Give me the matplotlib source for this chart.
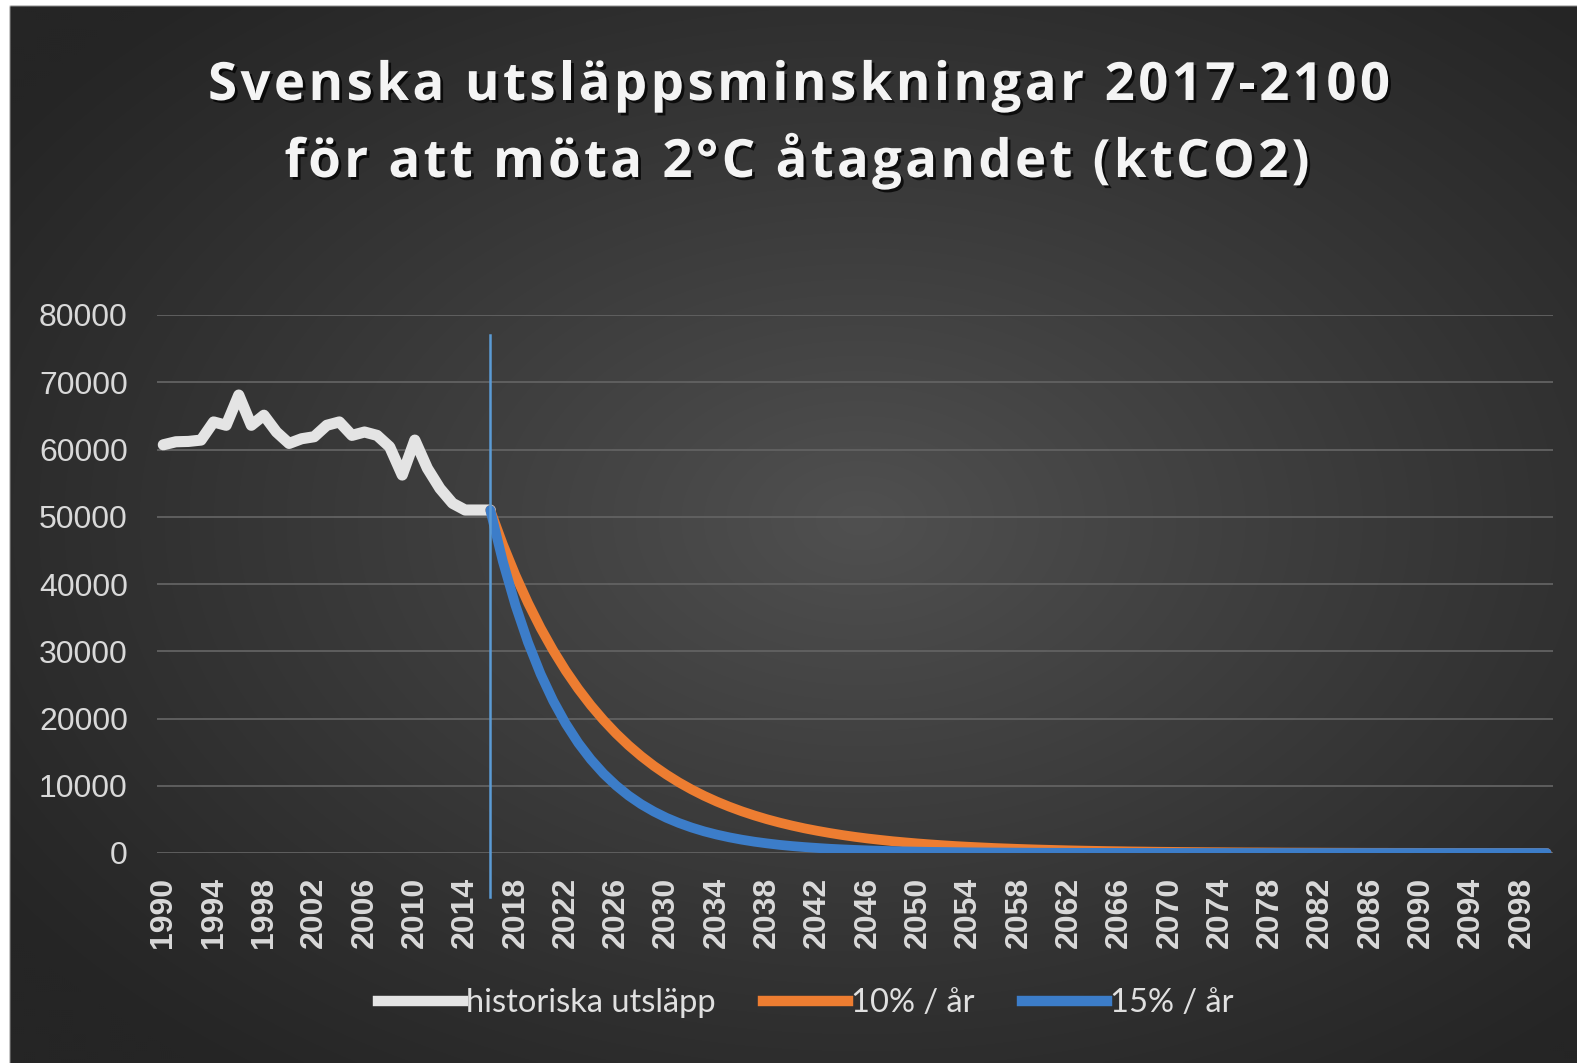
import numpy as np
import matplotlib
matplotlib.use("Agg")
import matplotlib.pyplot as plt
import matplotlib.patheffects as pe
from matplotlib.lines import Line2D
from matplotlib import font_manager
from matplotlib.font_manager import FontProperties
from matplotlib.ft2font import FT2Font

# ---------------- data ----------------
years = list(range(1990, 2101))
tick_labels = [str(y) for y in range(1990, 2101, 4)]

hist_years = list(range(1990, 2017))
hist_values = [60700, 61150, 61200, 61400, 64100, 63600, 68100, 63600, 65100, 62600,
               60900, 61600, 61900, 63600, 64100, 62100, 62600, 62100, 60400, 56200,
               61400, 57200, 54200, 52000, 51000, 51000, 51000]

proj_years = list(range(2016, 2101))
p10_values = [51000, 45900, 41310, 37180, 33460, 30120, 27100, 24390, 21950, 19760,
              17780, 16000, 14400, 12960, 11670, 10500, 9450, 8505, 7655, 6890,
              6200, 5580, 5020, 4520, 4070, 3660, 3300, 2970, 2670, 2400,
              2160, 1950, 1750, 1580, 1420, 1280, 1150, 1030, 930, 840,
              750, 680, 610, 550, 495, 445, 400, 360, 325, 290,
              265, 235, 215, 190, 175, 155, 140, 125, 115, 100,
              90, 85, 75, 65, 60, 55, 50, 45, 40, 35,
              30, 30, 25, 25, 20, 20, 15, 15, 15, 10,
              10, 10, 10, 8, 7]
p15_values = [51000, 43350, 36850, 31320, 26620, 22630, 19240, 16350, 13900, 11810,
              10040, 8530, 7250, 6170, 5240, 4460, 3790, 3220, 2740, 2330,
              1980, 1680, 1430, 1210, 1030, 880, 750, 630, 540, 460,
              390, 330, 280, 240, 200, 170, 150, 125, 105, 90,
              75, 65, 55, 47, 40, 34, 29, 25, 21, 18,
              15, 13, 11, 9, 8, 7, 6, 5, 4, 4,
              3, 3, 2, 2, 2, 1, 1, 1, 1, 1,
              1, 1, 1, 0, 0, 0, 0, 0, 0, 0,
              0, 0, 0, 0, 0]
marker_year = 2016

series_names = ["historiska utsläpp", "10% / år", "15% / år"]
title_lines = ["Svenska utsläppsminskningar 2017-2100", "för att möta 2°C åtagandet (ktCO2)"]
y_ticks = [0, 10000, 20000, 30000, 40000, 50000, 60000, 70000, 80000]

# ---------------- style ----------------
W, H = 1577, 1063
DPI = 100
fig = plt.figure(figsize=(W / DPI, H / DPI), dpi=DPI)

# background radial gradient
bg = fig.add_axes([0, 0, 1, 1], zorder=-10)
yy, xx = np.mgrid[0:H:2, 0:W:2]
cx, cy = 860, 520
r = np.sqrt(((xx - cx) / 1050.0) ** 2 + ((yy - cy) / 700.0) ** 2)
r = np.clip(r, 0, 1)
c_center = np.array([0x50, 0x50, 0x50]) / 255.0
c_edge = np.array([0x25, 0x25, 0x25]) / 255.0
t = (1 - r) ** 1.1
img = c_edge[None, None, :] + (c_center - c_edge)[None, None, :] * t[:, :, None]
img[: 3, :, :] = 1.0
img[:, : 5, :] = 1.0
bg.imshow(img, extent=[0, W, H, 0], aspect="auto", interpolation="bilinear")
bg.set_xlim(0, W)
bg.set_ylim(H, 0)
bg.axis("off")

ax = fig.add_axes([157 / W, 1 - 853 / H, (1553 - 157) / W, (853 - 315) / H])
ax.set_facecolor("none")

xpos = {y: i for i, y in enumerate(years)}
hx = [xpos[y] for y in hist_years]
px = [xpos[y] for y in proj_years]

white = "#e4e4e4"
orange = "#ed7d31"
blue = "#3c7dc9"

ax.plot(hx, hist_values, color=white, lw=8, solid_joinstyle="round",
        solid_capstyle="round", zorder=4)
ax.plot(px, p10_values, color=orange, lw=7, solid_joinstyle="round",
        solid_capstyle="round", zorder=5)
ax.plot(px, p15_values, color=blue, lw=7, solid_joinstyle="round",
        solid_capstyle="round", zorder=6)

# vertical marker line (extends below axis)
mx = xpos[marker_year]
ax.plot([mx, mx], [-6500, 77000], color="#5b9bd5", lw=1.8, zorder=7, clip_on=False)

ax.set_xlim(-0.5, len(years) - 0.5)
ax.set_ylim(0, 80000)
ax.set_yticks(y_ticks)
ax.set_yticklabels([str(v) for v in y_ticks])
tick_pos = [xpos[int(s)] for s in tick_labels]
ax.set_xticks(tick_pos)
ax.set_xticklabels(tick_labels, rotation=90)

ax.grid(axis="y", color="#626262", lw=1.3, zorder=1)
ax.set_axisbelow(True)
for s in ax.spines.values():
    s.set_visible(False)
ax.tick_params(axis="both", length=0, colors="#d9d9d9")
ax.tick_params(axis="y", pad=21)
ax.tick_params(axis="x", pad=17)
for lab in ax.get_yticklabels():
    lab.set_fontfamily("Liberation Sans")
    lab.set_fontsize(23)
for lab in ax.get_xticklabels():
    lab.set_fontfamily("Liberation Sans")
    lab.set_fontsize(23)
    lab.set_fontweight("bold")

# title with letter spacing
tfp = FontProperties(family="Open Sans", weight="bold")
tpath = font_manager.findfont(tfp)
tsize = 38
ft = FT2Font(tpath)
ft.set_size(tsize, DPI)


def advances(s):
    return [ft.load_char(ord(c)).linearHoriAdvance / 65536.0 for c in s]


shadow = [pe.withSimplePatchShadow(offset=(2, -2), shadow_rgbFace="black", alpha=0.75)]
title_specs = [(title_lines[0], 799, 100, 1182), (title_lines[1], 797, 177, 1025)]
for line, xc, base, target_w in title_specs:
    adv = advances(line)
    nat = sum(adv)
    spacing = (target_w - nat) / (len(line) - 1)
    x = xc - target_w / 2.0
    for c, a in zip(line, adv):
        if c != " ":
            fig.text(x / W, 1 - base / H, c, ha="left", va="baseline",
                     fontproperties=FontProperties(family="Open Sans", weight="bold", size=tsize),
                     color="#f4f4f4", path_effects=shadow)
        x += a + spacing

# legend
handles = [Line2D([], [], color=white, lw=7.5),
           Line2D([], [], color=orange, lw=7.5),
           Line2D([], [], color=blue, lw=7.5)]
leg = fig.legend(handles, series_names, loc="center", bbox_to_anchor=(0.511, 1 - 1003 / H),
                 ncol=3, frameon=False, handlelength=2.6, handletextpad=0.1,
                 columnspacing=1.45, prop={"family": "Lato", "size": 23.5})
for txt in leg.get_texts():
    txt.set_color("#e0e0e0")

fig.savefig("out.png", dpi=DPI)
